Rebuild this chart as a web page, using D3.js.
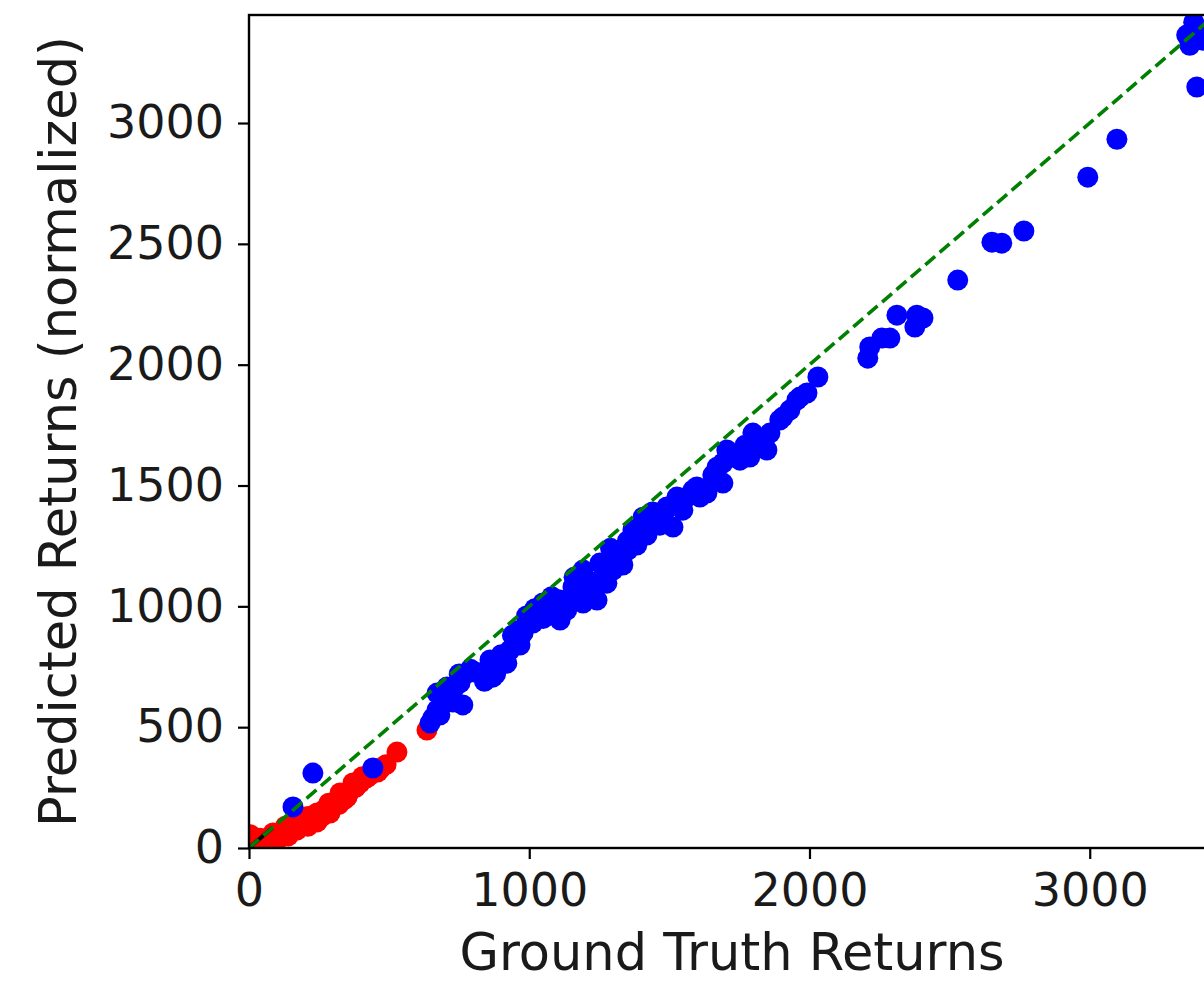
<!DOCTYPE html>
<html>
<head>
<meta charset="utf-8">
<script src="https://cdn.jsdelivr.net/npm/d3@7"></script>
<style>
  body { margin: 0; background: #fff; }
  text { font-family: "DejaVu Sans", sans-serif; fill: #1a1a1a; }
</style>
</head>
<body>
<svg class="scatter" width="1204" height="986"></svg>
<script>
// ground truth vs predicted returns
const redPoints = [
  [4, 8], [4, 55], [20, 5], [60, 15], [100, 30], [140, 50], [171, 74], [210, 90],
  [243, 108], [289, 145], [320, 180], [350, 211], [396, 269], [430, 300],
  [10, 25], [40, 40], [86, 62], [130, 90], [171, 116], [210, 130], [243, 145],
  [285, 185], [325, 228], [371, 269], [405, 295], [442, 323], [470, 330], [489, 345],
  [50, 28], [120, 60], [200, 110], [260, 130], [300, 170], [340, 200], [380, 250],
  [420, 290], [460, 315], [75, 41], [155, 95], [230, 120], [270, 160], [360, 235],
  [528, 397], [635, 488],
];

const bluePoints = [
  [157, 170], [228, 310], [442, 331],
  [646, 517], [656, 538], [671, 571], [681, 550], [692, 612], [706, 612], [728, 604],
  [763, 592], [671, 641], [706, 666], [728, 654], [753, 683], [778, 724], [806, 728],
  [824, 724], [849, 716], [870, 707], [860, 778], [895, 778], [920, 765], [931, 819],
  [956, 861], [967, 840], [978, 890], [992, 923], [1013, 931], [1013, 956], [1038, 972],
  [1049, 1014], [1074, 972], [1092, 1005], [1110, 943], [1110, 1026], [1134, 985],
  [1156, 1080], [1163, 1026], [1192, 1014], [1192, 1150], [1217, 1067], [1242, 1026],
  [1252, 1179], [1252, 1109], [1277, 1096], [1299, 1150], [1290, 1240], [1316, 1192],
  [1334, 1171], [1352, 1233], [1370, 1316], [1384, 1254], [1406, 1369], [1420, 1295],
  [1448, 1357], [1466, 1336], [1491, 1411], [1513, 1328], [1527, 1452], [1548, 1398],
  [1584, 1481], [1598, 1494], [1609, 1452], [1634, 1469], [1655, 1543], [1670, 1576],
  [1691, 1510], [1691, 1593], [1705, 1647], [1752, 1605], [1787, 1618], [1770, 1667],
  [1798, 1717], [1823, 1688], [1848, 1647], [1859, 1717], [1894, 1771], [1905, 1783],
  [1930, 1812], [1955, 1854], [1966, 1866], [1991, 1883], [2030, 1949],
  [2208, 2027], [2215, 2073], [2258, 2110], [2287, 2110], [2312, 2205], [2376, 2156],
  [2383, 2205], [2405, 2193], [2529, 2350], [2651, 2507], [2686, 2503], [2765, 2553],
  [2993, 2776], [3097, 2933], [3382, 3149], [3346, 3364], [3371, 3417], [3393, 3384],
  [3404, 3343], [3357, 3322],
  [1050, 950], [1130, 1010], [1180, 1060], [1230, 1090], [1270, 1140], [1320, 1230],
  [1350, 1270], [1160, 1120], [1080, 1040], [840, 690], [880, 720], [900, 800],
  [940, 880], [960, 900], [990, 960], [1200, 1110], [1400, 1320], [1440, 1390],
  [1560, 1450], [1480, 1380], [1020, 990], [750, 720], [790, 740],
];

const xTicks = [0, 1000, 2000, 3000];
const yTicks = [0, 500, 1000, 1500, 2000, 2500, 3000];
const axisMax = 3447;
const blackSegment = [[0, 0], [85, 85]];

const svg = d3.select(".scatter");

const marginLeft = 249;
const marginTop = 15;
const width = 966;
const height = 833;

const xScale = d3.scaleLinear().domain([0, axisMax]).range([0, width]);
const yScale = d3.scaleLinear().domain([0, axisMax]).range([height, 0]);

const chart = svg.append("g").attr("transform", `translate(${marginLeft}, ${marginTop})`);

chart.append("clipPath")
  .attr("id", "plot-clip")
  .append("rect")
  .attr("width", width)
  .attr("height", height);

const plot = chart.append("g").attr("clip-path", "url(#plot-clip)");

plot.selectAll(".red-dot")
  .data(redPoints)
  .enter()
  .append("circle")
  .attr("class", "red-dot")
  .attr("cx", (d) => xScale(d[0]))
  .attr("cy", (d) => yScale(d[1]))
  .attr("r", 10.5)
  .attr("fill", "#ff0000");

plot.selectAll(".blue-dot")
  .data(bluePoints)
  .enter()
  .append("circle")
  .attr("class", "blue-dot")
  .attr("cx", (d) => xScale(d[0]))
  .attr("cy", (d) => yScale(d[1]))
  .attr("r", 10.5)
  .attr("fill", "#0000ff");

const line = d3.line().x((d) => xScale(d[0])).y((d) => yScale(d[1]));

plot.append("path")
  .datum(blackSegment)
  .attr("d", line)
  .attr("stroke", "#000")
  .attr("stroke-width", 4)
  .attr("fill", "none");

plot.append("path")
  .datum([[0, 0], [axisMax, axisMax]])
  .attr("d", line)
  .attr("stroke", "#008000")
  .attr("stroke-width", 3.6)
  .attr("stroke-dasharray", "13,6")
  .attr("fill", "none");

// axes
const xAxis = chart.append("g")
  .attr("transform", `translate(0, ${height})`)
  .call(d3.axisBottom(xScale).tickValues(xTicks).tickSize(11).tickPadding(14).tickFormat(d3.format("d")));

const yAxis = chart.append("g")
  .call(d3.axisLeft(yScale).tickValues(yTicks).tickSize(11).tickPadding(14).tickFormat(d3.format("d")));

[xAxis, yAxis].forEach((g) => {
  g.select(".domain").remove();
  g.selectAll(".tick line").attr("stroke", "#000").attr("stroke-width", 2.2);
  g.selectAll(".tick text")
    .attr("font-size", 46)
    .attr("font-family", "DejaVu Sans")
    .attr("fill", "#1a1a1a");
});

// spines
chart.append("rect")
  .attr("width", width)
  .attr("height", height)
  .attr("fill", "none")
  .attr("stroke", "#000")
  .attr("stroke-width", 2.4);

svg.append("text")
  .attr("x", marginLeft + width / 2)
  .attr("y", 970)
  .attr("text-anchor", "middle")
  .attr("font-size", 51)
  .text("Ground Truth Returns");

svg.append("text")
  .attr("transform", `translate(76, ${marginTop + height / 2}) rotate(-90)`)
  .attr("text-anchor", "middle")
  .attr("font-size", 51)
  .text("Predicted Returns (normalized)");
</script>
</body>
</html>
